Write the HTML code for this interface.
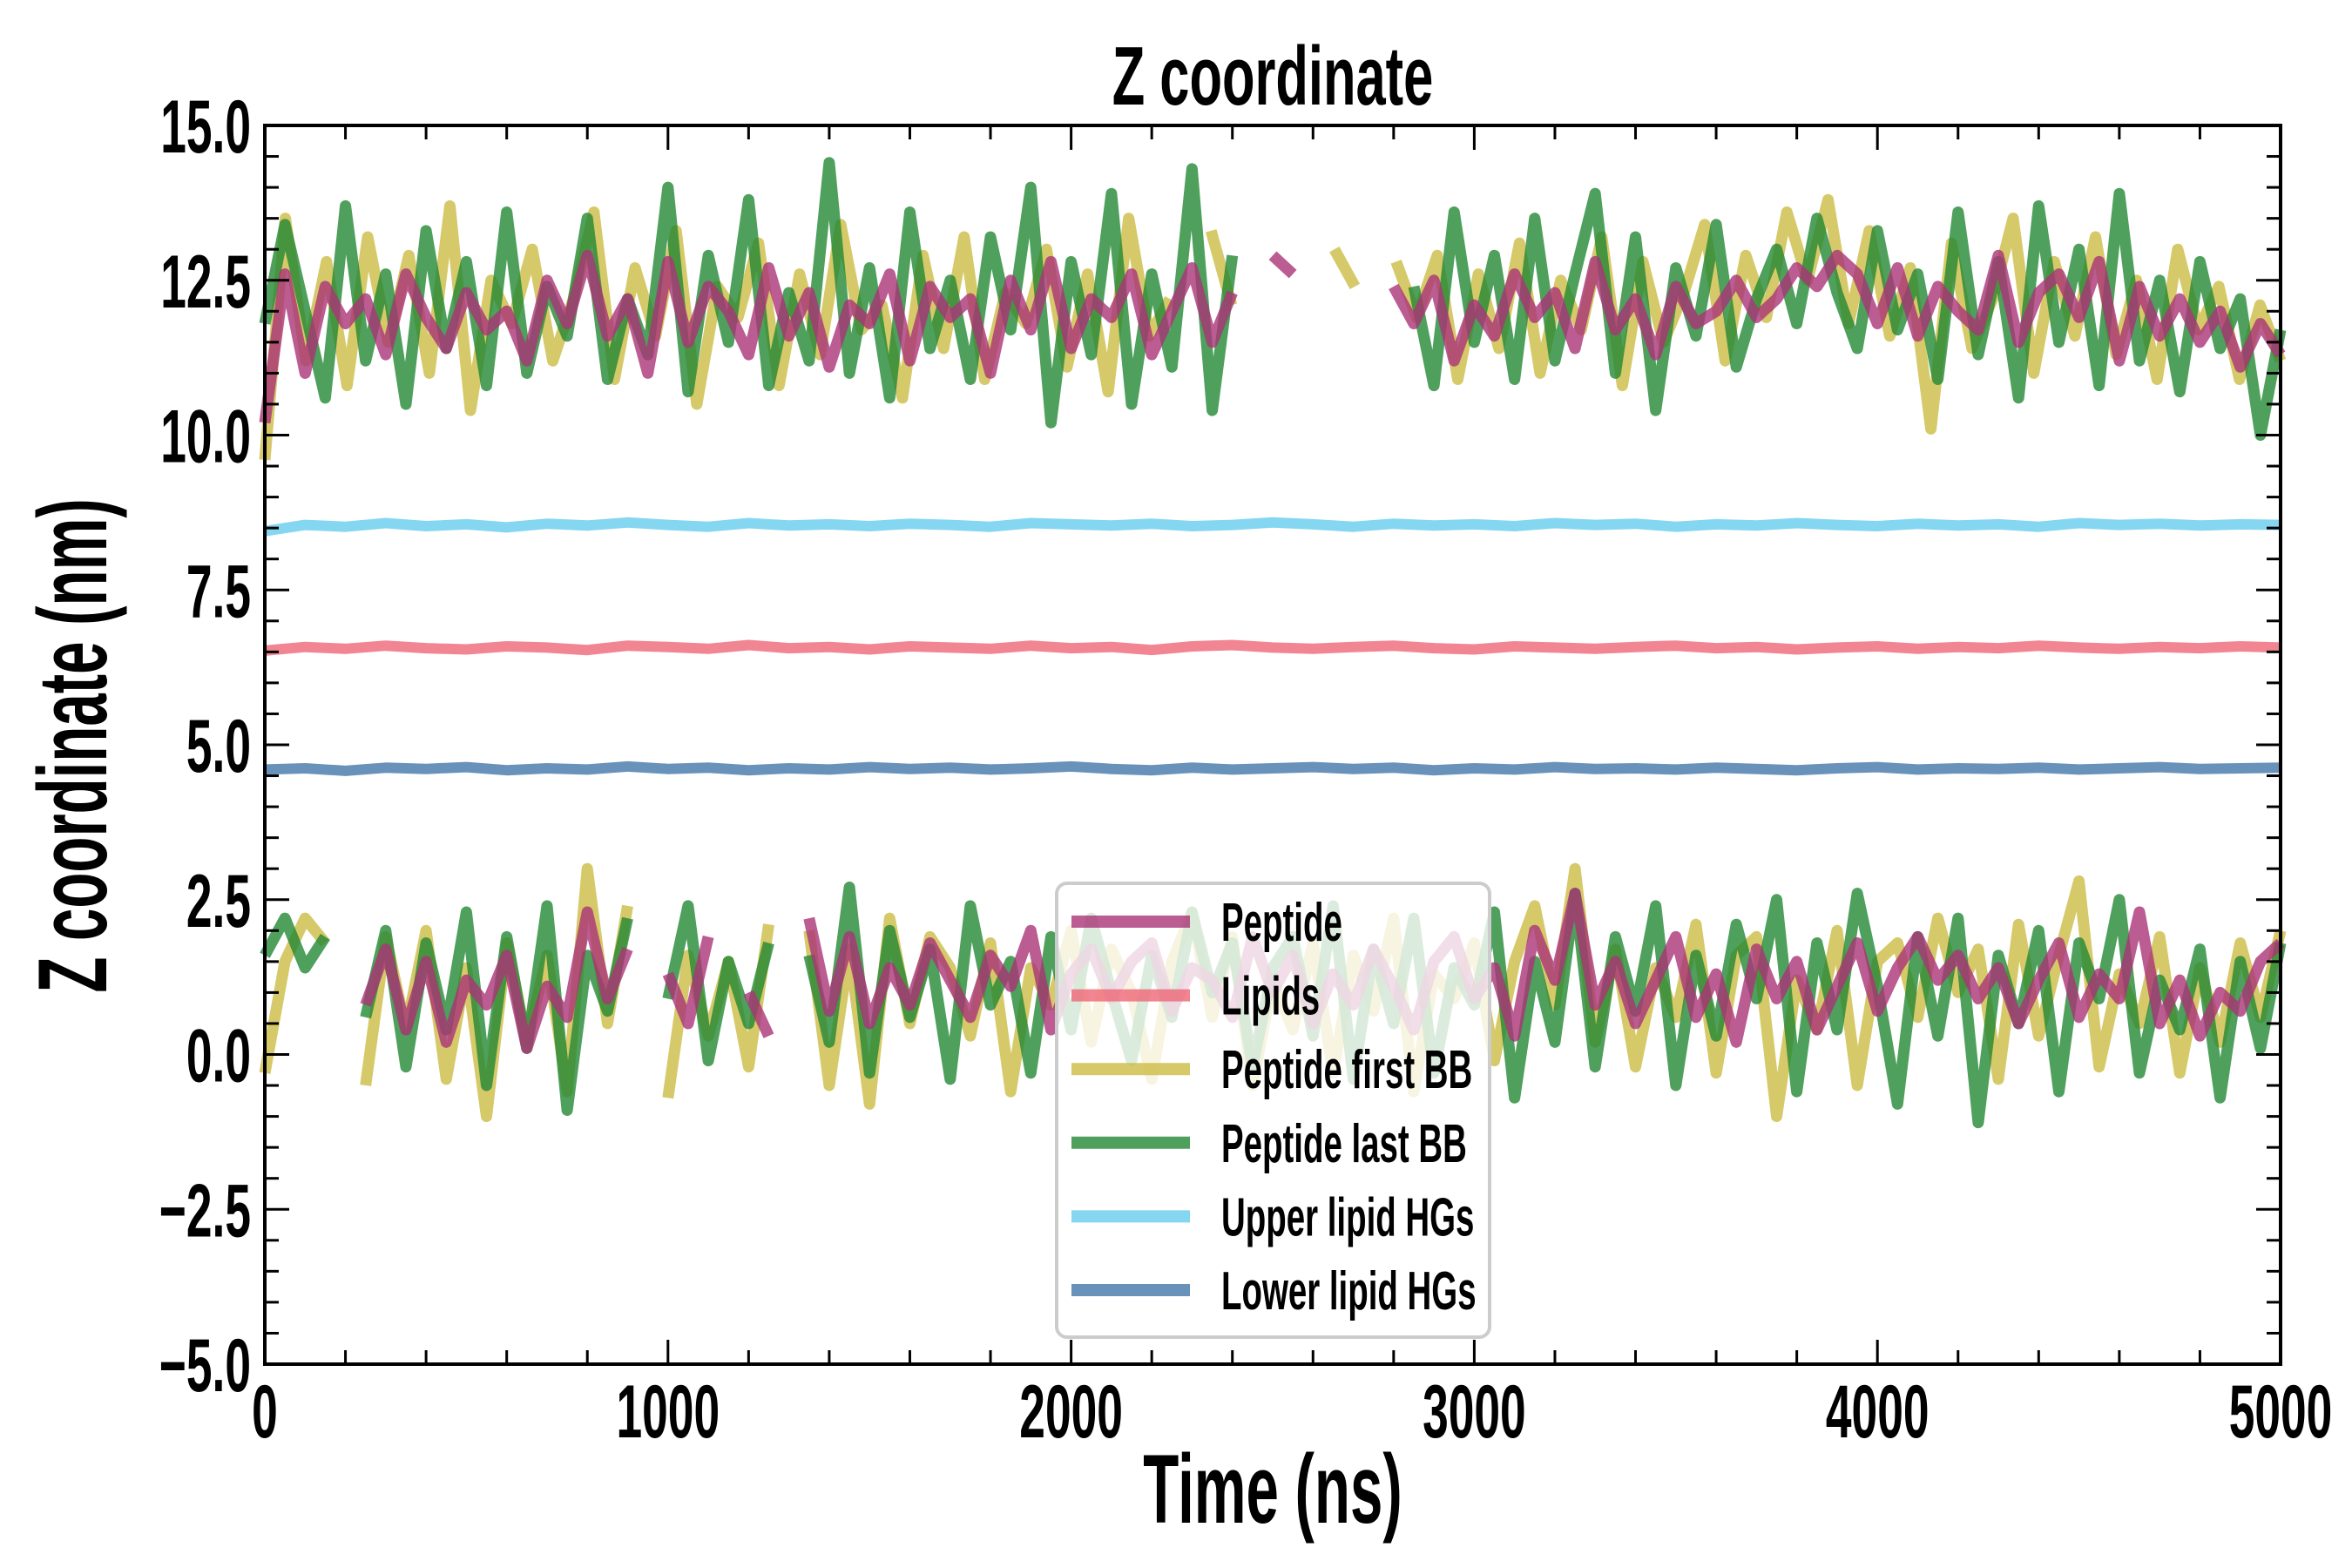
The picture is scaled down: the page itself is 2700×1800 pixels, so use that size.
<!DOCTYPE html>
<html><head><meta charset="utf-8">
<style>
html,body{margin:0;padding:0;background:#fff;}
svg{display:block;}
text{font-family:"Liberation Sans",sans-serif;font-weight:bold;fill:#000;}
</style></head>
<body>
<svg id="chart" width="2700" height="1800" viewBox="0 0 2700 1800">
  <rect x="0" y="0" width="2700" height="1800" fill="#fff"/>
  <g id="marks"></g>
  <g id="axes"></g>
  <text transform="translate(1461,120) scale(0.64,1)" font-size="96" text-anchor="middle">Z coordinate</text>
  <text transform="translate(1461,1748) scale(0.6,1)" font-size="112" text-anchor="middle">Time (ns)</text>
  <text transform="translate(122,856) rotate(-90) scale(0.6,1)" font-size="112" text-anchor="middle">Z coordinate (nm)</text>
  <g id="legend"></g>
</svg>
<script>
const xDomain=[0,5000];
const yDomain=[-5,15];
const xTicks=[0,1000,2000,3000,4000,5000];
const xTickLabels=["0","1000","2000","3000","4000","5000"];
const yTicks=[-5,-2.5,0,2.5,5,7.5,10,12.5,15];
const yTickLabels=["\u22125.0","\u22122.5","0.0","2.5","5.0","7.5","10.0","12.5","15.0"];
const seriesNames=["Peptide","Lipids","Peptide first BB","Peptide last BB","Upper lipid HGs","Lower lipid HGs"];

const peptideUp=[10.2,12.6,11.0,12.4,11.8,12.2,11.3,12.6,11.9,11.4,12.3,11.7,12.0,11.2,12.5,11.8,12.9,11.6,12.2,11.0,12.8,11.5,12.4,12.0,11.3,12.7,11.6,12.3,11.1,12.1,11.8,12.6,11.2,12.4,11.9,12.2,11.0,12.5,11.7,12.8,11.4,12.2,11.9,12.6,11.3,12.0,12.7,11.5,12.3,null,12.9,12.6,null,null,null,null,12.4,11.8,12.5,11.2,12.1,11.6,12.6,11.9,12.3,11.4,12.8,11.7,12.2,11.3,12.4,11.8,12.0,12.5,11.9,12.2,12.7,12.4,12.9,12.6,11.8,12.7,11.6,12.4,12.0,11.7,12.9,11.5,12.3,12.6,11.9,12.8,11.2,12.4,11.6,12.2,11.5,12.0,11.1,11.8,11.3];
const firstUp=[9.6,13.5,11.2,12.8,10.8,13.2,11.5,12.9,11.0,13.7,10.4,12.5,11.8,13.0,11.2,12.2,13.6,10.9,12.7,11.6,13.3,10.5,12.4,11.9,13.1,10.8,12.6,11.3,13.4,11.7,12.1,10.6,12.9,11.4,13.2,10.9,12.3,11.8,13.0,11.1,12.6,10.7,13.5,11.6,12.2,null,13.3,12.1,null,null,11.5,null,13.0,12.4,null,12.8,11.9,12.9,10.9,12.6,11.4,13.1,11.0,12.5,11.7,13.2,10.8,12.8,11.5,12.3,13.4,11.2,12.9,11.9,13.6,12.5,13.8,11.8,13.3,11.6,12.7,10.1,13.1,11.4,12.2,13.5,11.0,12.8,11.6,13.2,11.3,12.5,10.9,13.0,11.7,12.4,10.9,12.1,11.2];
const lastUp=[11.8,13.4,12.0,10.6,13.7,11.2,12.6,10.5,13.3,11.4,12.8,10.8,13.6,11.0,12.4,11.6,13.5,10.9,12.2,11.3,14.0,10.7,12.9,11.5,13.8,10.8,12.3,11.2,14.4,11.0,12.7,10.6,13.6,11.4,12.5,10.9,13.2,11.7,14.0,10.2,12.8,11.3,13.9,10.5,12.6,11.1,14.3,10.4,12.9,null,14.2,null,null,null,null,13.2,null,12.4,10.8,13.6,11.5,12.9,10.9,13.5,11.2,12.6,13.9,11.0,13.2,10.4,12.7,11.6,13.4,11.1,12.2,13.0,11.8,13.5,12.3,11.4,13.3,11.7,12.6,10.9,13.6,11.3,12.8,10.6,13.7,11.5,13.0,10.8,13.9,11.2,12.5,10.7,12.8,11.4,12.2,10.0,11.7];
const peptideLow=[0.5,null,null,null,null,0.8,1.7,0.4,1.5,0.2,1.2,0.8,1.6,0.1,1.1,0.6,2.3,0.9,1.7,null,1.3,0.5,1.9,null,1.0,0.3,null,2.2,0.7,1.9,0.5,1.4,0.8,1.8,1.2,0.6,1.6,1.1,2.0,0.4,1.3,1.7,0.9,1.5,1.8,0.7,1.4,1.2,0.6,1.9,1.0,1.6,0.5,1.3,0.8,1.7,1.1,0.4,1.5,1.9,0.9,1.4,0.3,2.0,1.2,2.6,0.8,1.5,0.5,1.2,1.9,0.6,1.3,0.2,1.7,0.9,1.5,0.4,1.1,1.8,0.7,1.4,1.9,1.2,1.6,0.9,1.4,0.5,1.2,1.8,0.6,1.3,0.9,2.3,0.5,1.2,0.3,1.0,0.7,1.5,1.8];
const firstLow=[-0.3,1.5,2.2,1.8,null,-0.5,1.9,0.4,2.0,-0.4,1.4,-1.0,1.8,0.2,1.6,-0.6,3.0,0.5,2.4,null,-0.7,1.6,0.3,1.5,-0.2,2.1,null,2.0,-0.5,1.7,-0.8,2.2,0.5,1.9,1.4,0.3,1.8,-0.6,1.4,0.8,2.0,0.2,1.7,1.0,-0.4,1.5,2.3,0.6,1.9,-0.5,1.2,0.4,1.8,-0.3,1.6,0.7,2.2,-0.6,1.3,0.9,1.8,-0.1,1.5,2.4,0.8,3.0,0.2,1.7,-0.2,1.4,0.6,2.1,-0.3,1.6,1.9,-1.0,1.2,0.4,2.0,-0.5,1.5,1.8,0.6,2.2,1.0,1.7,-0.4,2.1,0.3,1.6,2.8,-0.2,1.3,0.5,1.9,-0.3,1.4,0.2,1.8,0.6,2.0];
const lastLow=[1.6,2.2,1.4,1.9,null,0.6,2.0,-0.2,1.8,0.4,2.3,-0.5,1.9,0.1,2.4,-0.9,1.6,0.7,2.2,null,0.9,2.4,-0.1,1.5,0.5,1.8,null,1.6,0.2,2.7,-0.3,2.0,0.6,1.7,-0.4,2.4,0.8,1.5,-0.3,1.9,0.4,2.2,1.0,-0.1,1.6,0.6,2.3,1.0,1.8,-0.2,1.4,1.9,0.3,2.4,-0.4,1.7,0.5,2.2,-0.3,1.4,0.8,2.3,-0.7,1.5,0.2,2.6,-0.2,1.9,0.7,2.4,-0.5,1.6,0.3,2.1,0.9,2.5,-0.6,1.8,0.4,2.6,1.1,-0.8,1.9,0.3,2.2,-1.1,1.6,0.5,2.0,-0.6,1.8,0.9,2.5,-0.3,1.2,0.4,1.7,-0.7,1.5,0.1,1.8];
const lipids=[6.52,6.58,6.55,6.60,6.56,6.54,6.59,6.57,6.53,6.60,6.58,6.55,6.61,6.56,6.58,6.54,6.59,6.57,6.55,6.60,6.56,6.58,6.53,6.59,6.61,6.57,6.55,6.58,6.60,6.56,6.54,6.59,6.57,6.55,6.58,6.60,6.56,6.58,6.54,6.57,6.59,6.55,6.58,6.56,6.60,6.57,6.55,6.58,6.56,6.59,6.57];
const upperHG=[8.45,8.55,8.52,8.58,8.53,8.56,8.51,8.57,8.54,8.59,8.55,8.52,8.58,8.54,8.56,8.53,8.57,8.55,8.52,8.58,8.56,8.54,8.57,8.53,8.55,8.59,8.56,8.52,8.57,8.54,8.56,8.53,8.58,8.55,8.57,8.52,8.56,8.54,8.58,8.55,8.53,8.57,8.54,8.56,8.52,8.58,8.55,8.57,8.54,8.56,8.55];
const lowerHG=[4.60,4.62,4.58,4.63,4.61,4.64,4.59,4.62,4.60,4.65,4.61,4.63,4.59,4.62,4.60,4.64,4.61,4.63,4.60,4.62,4.65,4.61,4.59,4.63,4.60,4.62,4.64,4.61,4.63,4.59,4.62,4.60,4.64,4.61,4.62,4.60,4.63,4.61,4.59,4.62,4.64,4.60,4.62,4.61,4.63,4.60,4.62,4.64,4.61,4.62,4.63];

const NS="http://www.w3.org/2000/svg";
const L=304,R=2618,T=144,B=1566;
function xs(v){return L+(v-xDomain[0])/(xDomain[1]-xDomain[0])*(R-L);}
function ys(v){return B-(v-yDomain[0])/(yDomain[1]-yDomain[0])*(B-T);}
function mk(tag,attrs,parent){const e=document.createElementNS(NS,tag);for(const k in attrs)e.setAttribute(k,attrs[k]);parent.appendChild(e);return e;}

const marks=document.getElementById('marks');
function drawSeries(vals,color,width,name){
  const n=vals.length;let d="";let pen=false;
  for(let i=0;i<n;i++){
    const v=vals[i];
    if(v===null){pen=false;continue;}
    const t=xDomain[0]+i*(xDomain[1]-xDomain[0])/(n-1);
    d+=(pen?"L":"M")+xs(t).toFixed(1)+","+ys(v).toFixed(1);
    pen=true;
  }
  const p=mk('path',{d:d,fill:'none',stroke:color,'stroke-width':width,'stroke-opacity':0.8,'stroke-linejoin':'round','stroke-linecap':'butt'},marks);
  
  
}
drawSeries(firstUp,'#ccbb44',13,'peptide-first-bb-upper-line');
drawSeries(firstLow,'#ccbb44',13,'peptide-first-bb-lower-line');
drawSeries(lastUp,'#228833',13,'peptide-last-bb-upper-line');
drawSeries(lastLow,'#228833',13,'peptide-last-bb-lower-line');
drawSeries(peptideUp,'#aa3377',13,'peptide-upper-line');
drawSeries(peptideLow,'#aa3377',13,'peptide-lower-line');
drawSeries(upperHG,'#66ccee',12,'upper-lipid-hgs-line');
drawSeries(lipids,'#ee6677',12,'lipids-line');
drawSeries(lowerHG,'#4477aa',12,'lower-lipid-hgs-line');

const axes=document.getElementById('axes');
const frame=mk('rect',{x:L,y:T,width:R-L,height:B-T,fill:'none',stroke:'#000','stroke-width':4},axes);


for(let v=xDomain[0];v<=xDomain[1];v+=200){
  const major=(v%1000===0);const len=major?28:16;const x=xs(v);
  mk('line',{x1:x,y1:B,x2:x,y2:B-len,stroke:'#000','stroke-width':3},axes);
  mk('line',{x1:x,y1:T,x2:x,y2:T+len,stroke:'#000','stroke-width':3},axes);
}
xTicks.forEach((v,i)=>{
  const t=mk('text',{transform:'translate('+xs(v)+','+(B+84)+') scale(0.62,1)','font-size':86,'text-anchor':'middle'},axes);
  t.textContent=xTickLabels[i];
  
  
});
for(let k=0;k<=40;k++){
  const v=yDomain[0]+k*0.5;const major=(k%5===0);const len=major?28:16;const y=ys(v);
  mk('line',{x1:L,y1:y,x2:L+len,y2:y,stroke:'#000','stroke-width':3},axes);
  mk('line',{x1:R,y1:y,x2:R-len,y2:y,stroke:'#000','stroke-width':3},axes);
}
yTicks.forEach((v,i)=>{
  const t=mk('text',{transform:'translate('+(L-16)+','+(ys(v)+31)+') scale(0.62,1)','font-size':86,'text-anchor':'end'},axes);
  t.textContent=yTickLabels[i];
  
  
});

const lg=document.getElementById('legend');
const box=mk('rect',{x:1213,y:1014,width:497,height:521,rx:12,fill:'#fff','fill-opacity':0.8,stroke:'#cccccc','stroke-width':4},lg);


const legendColors=['#aa3377','#ee6677','#ccbb44','#228833','#66ccee','#4477aa'];
seriesNames.forEach((nm,i)=>{
  const y=1058+i*84.6;
  const ln=mk('line',{x1:1230,y1:y,x2:1366,y2:y,stroke:legendColors[i],'stroke-width':14,'stroke-opacity':0.8},lg);
  
  
  const t=mk('text',{transform:'translate(1402,'+(y+22)+') scale(0.62,1)','font-size':62},lg);
  t.textContent=nm;
  
  
});
</script>
</body></html>
